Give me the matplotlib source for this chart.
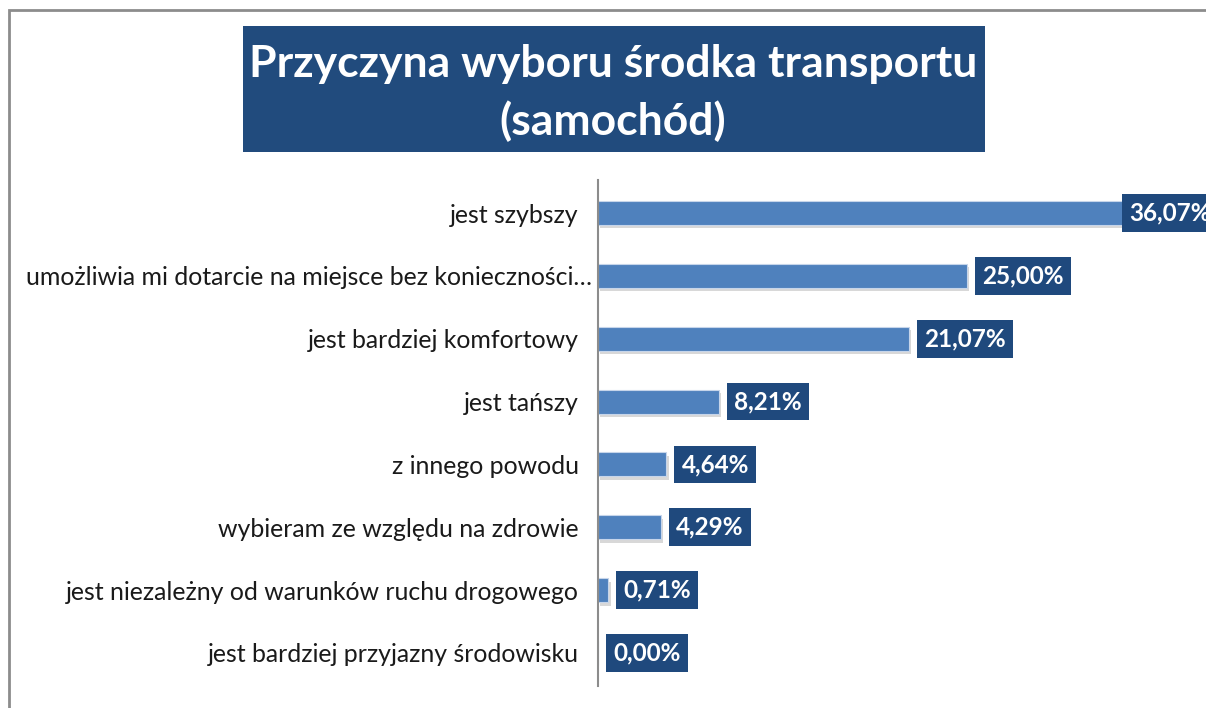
import matplotlib.pyplot as plt
from matplotlib.patches import Rectangle
from matplotlib.transforms import ScaledTranslation
import matplotlib.patheffects as pe

# dane
kategorie = [
    "jest szybszy",
    "umożliwia mi dotarcie na miejsce bez konieczności…",
    "jest bardziej komfortowy",
    "jest tańszy",
    "z innego powodu",
    "wybieram ze względu na zdrowie",
    "jest niezależny od warunków ruchu drogowego",
    "jest bardziej przyjazny środowisku",
]
wartosci = [36.07, 25.00, 21.07, 8.21, 4.64, 4.29, 0.71, 0.00]
etykiety = ["36,07%", "25,00%", "21,07%", "8,21%", "4,64%", "4,29%", "0,71%", "0,00%"]
tytul = "Przyczyna wyboru środka transportu\n(samochód)"

KOLOR_SLUPKA = "#4F81BD"
KOLOR_CIEMNY = "#1F497D"
FONT = "Lato"

W, H = 1206, 708
fig = plt.figure(figsize=(W / 100, H / 100), dpi=100)

# ramka wykresu (widoczna tylko z lewej i od gory)
fig.patches.append(Rectangle((9 / W, -0.1), 1.2, 1 - 10 / H + 0.1,
                             transform=fig.transFigure, fill=False,
                             edgecolor="#8C8C8C", linewidth=2))

# tytul w ciemnym prostokacie
fig.patches.append(Rectangle((243 / W, 1 - 152 / H), 742 / W, 126 / H,
                             transform=fig.transFigure,
                             facecolor="#214B7D", edgecolor="none"))
fig.text(613 / W, 1 - 93 / H, tytul, ha="center", va="center",
         color="white", fontsize=32, fontweight="bold", family=FONT,
         linespacing=1.48)

ax = fig.add_axes([598 / W, 1 - 686 / H, (W - 598) / W, (686 - 180) / H])
y = list(range(len(kategorie)))

ax.barh(y, wartosci, height=0.38, color=KOLOR_SLUPKA, edgecolor="#C6D5EA",
        linewidth=0.8,
        path_effects=[pe.SimplePatchShadow(offset=(1.5, -2.5), shadow_rgbFace="#7F7F7F",
                                           alpha=0.3), pe.Normal()])

ax.set_xlim(0, 41.2)
ax.set_ylim(len(kategorie) - 0.475, -0.525)
ax.set_yticks(y)
ax.set_yticklabels(kategorie, fontsize=17.9, family=FONT, color="#1A1A1A")
ax.tick_params(axis="y", length=0, pad=14)
ax.set_xticks([])
for s in ["top", "right", "bottom"]:
    ax.spines[s].set_visible(False)
ax.spines["left"].set_color("#8C8C8C")
ax.spines["left"].set_linewidth(1.5)

# obciety opis z wielokropkiem siega dalej w prawo
lab = ax.get_yticklabels()[1]
lab.set_transform(lab.get_transform() + ScaledTranslation(0.13, 0, fig.dpi_scale_trans))

# etykiety danych
for yi, v, t in zip(y, wartosci, etykiety):
    x = min(v + 1.02, 36.0)
    ax.text(x, yi, t, ha="left", va="center", color="white", fontsize=17.5,
            fontweight="bold", family=FONT, clip_on=False,
            bbox=dict(boxstyle="square,pad=0.3", facecolor=KOLOR_CIEMNY,
                      edgecolor="none"))

fig.savefig("out.png", dpi=100)
